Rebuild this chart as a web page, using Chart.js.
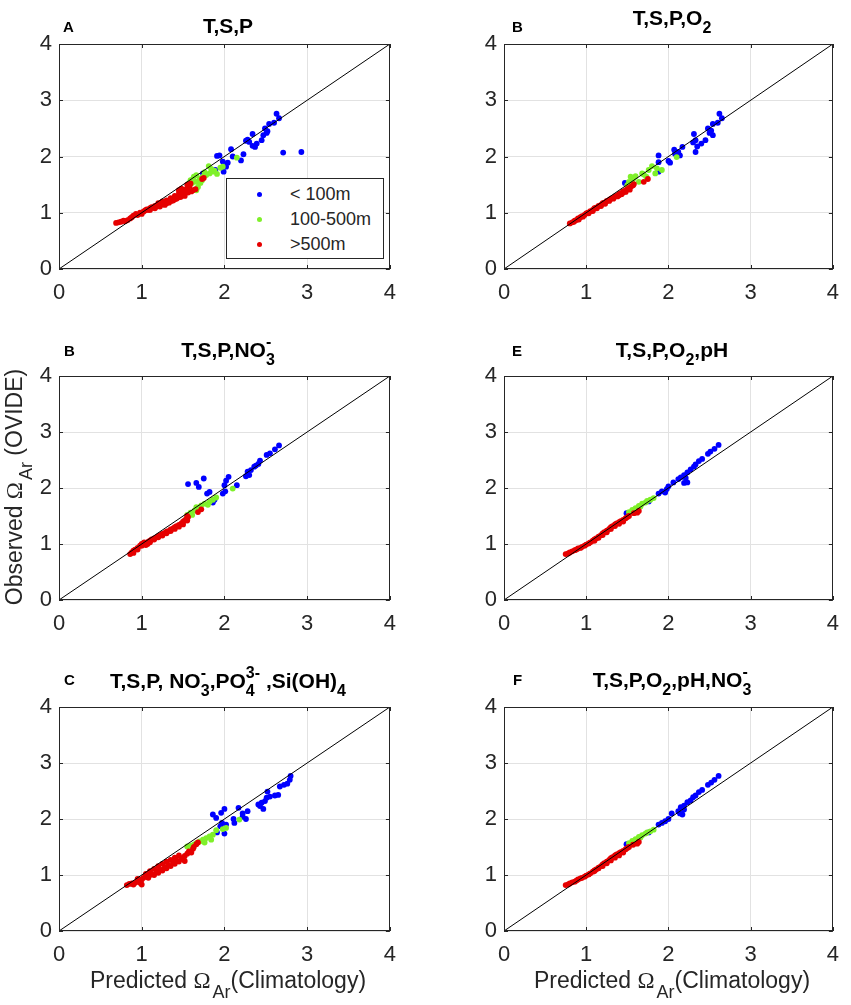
<!DOCTYPE html>
<html>
<head>
<meta charset="utf-8">
<script src="https://cdn.jsdelivr.net/npm/chart.js@4.4.1/dist/chart.umd.min.js"></script>
<style>
body { margin: 0; background: #fff; overflow: hidden; }
#fig { position: relative; width: 851px; height: 1005px; font-family: "Liberation Sans", Arial, sans-serif; color: #000; }
#fig canvas { position: absolute; }
.txt { position: absolute; line-height: 0; white-space: nowrap; }
.title { font-weight: bold; font-size: 21px; text-align: center; }
.letter { font-weight: bold; font-size: 15px; }
.axis { font-size: 23px; text-align: center; color: #262626; }
.lab { font-size: 18px; color: #262626; }
.txt sub, .txt sup { vertical-align: baseline; position: relative; font-size: 16px; }
.txt sub { top: 8px; }
.txt sup { top: -10px; }
.over { margin-left: -8.9px; }
.overm { margin-left: -8.9px; margin-right: 3.6px; }
.axis sub { font-size: 18px; top: 10px; }
.omega { font-family: "Liberation Serif", serif; padding-right: 2px; }
.legbox { position: absolute; border: 1px solid #262626; background: #fff; box-sizing: border-box; }
.dot { position: absolute; width: 5px; height: 5px; border-radius: 50%; }
</style>
</head>
<body>
<div id="fig"></div>
<script>
// ---- data ----
var axisTicks = [0, 1, 2, 3, 4];
var diagonal = [0, 4];
var seriesLabels = ['< 100m', '100-500m', '>500m'];
var seriesColors = ['#0000ff', '#7ff02a', '#e60000'];

var panelLetters = ['A', 'B', 'B', 'E', 'C', 'F'];
var panelTitles = [
	'T,S,P',
	'T,S,P,O<sub>2</sub>',
	'T,S,P,NO<sub>3</sub><sup class="overm">-</sup>',
	'T,S,P,O<sub>2</sub>,pH',
	'T,S,P, NO<sub>3</sub><sup class="overm">-</sup>,PO<sub>4</sub><sup class="over">3-</sup> ,Si(OH)<sub>4</sub>',
	'T,S,P,O<sub>2</sub>,pH,NO<sub>3</sub><sup class="overm">-</sup>'
];

// A: T,S,P
var tspShallow = [[2.63,2.76],[2.66,2.68],[2.60,2.60],[2.54,2.58],[2.49,2.50],[2.51,2.42],[2.47,2.38],[2.45,2.29],[2.34,2.40],[2.26,2.28],[2.30,2.26],[2.34,2.19],[2.37,2.17],[2.39,2.23],[2.71,2.07],[2.93,2.08],[2.23,2.04],[2.20,1.93],[2.10,2.00],[2.08,2.13],[1.91,2.01],[1.94,2.02],[1.98,1.91],[2.04,1.89],[1.99,1.73],[1.89,1.76],[1.74,1.70],[2.02,1.82],[2.52,2.45],[2.28,2.30]];
var tspMid = [[2.15,1.98],[1.81,1.83],[1.98,1.82],[1.91,1.69],[1.86,1.73],[1.82,1.70],[1.78,1.67],[1.74,1.64],[1.70,1.61],[1.66,1.67],[1.63,1.64],[1.59,1.58],[1.57,1.52],[1.66,1.55],[1.68,1.46],[1.66,1.40],[1.71,1.53],[1.61,1.53],[1.84,1.78],[1.76,1.72],[1.88,1.75],[1.95,1.80],[1.73,1.58],[1.62,1.60]];
var tspDeep = [[0.69,0.82],[0.72,0.83],[0.75,0.84],[0.78,0.86],[0.80,0.85],[0.83,0.87],[0.86,0.90],[0.88,0.92],[0.90,0.95],[0.93,0.98],[0.95,0.96],[0.98,1.00],[1.00,0.98],[1.02,1.02],[1.04,1.04],[1.06,1.06],[1.08,1.05],[1.10,1.08],[1.12,1.10],[1.14,1.09],[1.16,1.12],[1.18,1.11],[1.20,1.14],[1.22,1.13],[1.24,1.16],[1.26,1.15],[1.28,1.18],[1.30,1.17],[1.32,1.20],[1.34,1.22],[1.36,1.21],[1.38,1.25],[1.40,1.24],[1.42,1.28],[1.44,1.27],[1.46,1.30],[1.48,1.32],[1.50,1.35],[1.52,1.38],[1.54,1.42],[1.56,1.45],[1.58,1.48],[1.59,1.52],[1.55,1.50],[1.50,1.40],[1.45,1.35],[1.40,1.30],[1.35,1.26],[1.30,1.22],[1.25,1.20],[1.20,1.17],[1.60,1.38],[1.62,1.40],[1.65,1.42],[1.56,1.36],[1.52,1.30],[1.47,1.28],[1.42,1.25],[1.38,1.22],[1.33,1.18],[1.28,1.14],[1.22,1.11],[1.16,1.08],[1.10,1.05],[1.73,1.60],[1.75,1.62],[1.45,1.40],[1.48,1.43]];

// B: T,S,P,O2
var tspo2Shallow = [[2.62,2.76],[2.65,2.68],[2.60,2.60],[2.54,2.58],[2.48,2.50],[2.50,2.42],[2.54,2.38],[2.45,2.29],[2.40,2.23],[2.31,2.40],[2.33,2.29],[2.35,2.18],[2.33,2.08],[2.17,2.17],[2.07,2.12],[2.12,2.08],[2.14,2.02],[2.08,2.05],[2.00,1.92],[2.02,1.89],[1.88,2.02],[1.88,1.90],[1.88,1.73],[1.47,1.53],[2.30,2.25],[2.52,2.46]];
var tspo2Mid = [[1.80,1.83],[1.86,1.79],[1.92,1.76],[2.10,1.99],[1.76,1.76],[1.68,1.70],[1.60,1.65],[1.54,1.64],[1.56,1.58],[1.64,1.55],[1.52,1.55],[1.73,1.64],[1.84,1.70],[1.50,1.49],[1.58,1.62],[1.70,1.68]];
var tspo2Deep = [[0.80,0.81],[0.83,0.83],[0.86,0.86],[0.88,0.87],[0.90,0.90],[0.93,0.92],[0.95,0.94],[0.98,0.96],[1.00,0.99],[1.02,1.00],[1.05,1.03],[1.08,1.05],[1.10,1.08],[1.12,1.09],[1.15,1.12],[1.18,1.14],[1.20,1.17],[1.22,1.18],[1.25,1.21],[1.28,1.23],[1.30,1.25],[1.32,1.26],[1.35,1.29],[1.38,1.31],[1.40,1.33],[1.42,1.35],[1.45,1.38],[1.48,1.40],[1.50,1.42],[1.52,1.44],[1.55,1.47],[1.57,1.49],[1.58,1.51],[1.53,1.41],[1.48,1.37],[1.43,1.33],[1.38,1.29],[1.33,1.25],[1.28,1.21],[1.23,1.16],[1.18,1.12],[1.13,1.08],[1.08,1.03],[1.03,0.99],[0.96,0.93],[0.91,0.88],[0.85,0.84],[1.70,1.55],[1.75,1.60],[1.45,1.36],[1.40,1.31]];

// B (middle): T,S,P,NO3
var tspno3Shallow = [[2.66,2.76],[2.61,2.69],[2.55,2.62],[2.51,2.59],[2.43,2.49],[2.41,2.43],[2.36,2.38],[2.32,2.32],[2.28,2.29],[2.26,2.21],[2.30,2.23],[2.15,2.05],[2.05,2.20],[2.02,2.13],[2.00,2.05],[1.98,1.90],[2.01,1.94],[1.75,2.17],[1.66,2.09],[1.69,2.02],[1.56,2.07],[1.82,1.93],[1.79,1.90],[1.86,1.74],[1.88,1.79],[2.38,2.40]];
var tspno3Mid = [[2.10,1.99],[1.90,1.83],[1.86,1.79],[1.82,1.75],[1.76,1.72],[1.70,1.66],[1.64,1.60],[1.59,1.56],[1.55,1.52],[1.53,1.43],[1.66,1.66],[1.72,1.69],[1.61,1.52],[1.80,1.70]];
var tspno3Deep = [[0.86,0.82],[0.88,0.85],[0.90,0.84],[0.90,0.88],[0.92,0.90],[0.95,0.93],[0.98,0.97],[1.00,1.00],[1.02,1.01],[1.05,0.98],[1.07,1.00],[1.08,1.04],[1.10,1.06],[1.12,1.08],[1.15,1.10],[1.18,1.12],[1.20,1.14],[1.22,1.16],[1.25,1.18],[1.28,1.20],[1.30,1.22],[1.32,1.23],[1.35,1.26],[1.38,1.28],[1.40,1.30],[1.42,1.32],[1.45,1.34],[1.48,1.37],[1.50,1.40],[1.52,1.42],[1.54,1.45],[1.56,1.48],[1.55,1.50],[1.50,1.35],[1.45,1.31],[1.40,1.27],[1.35,1.23],[1.30,1.19],[1.25,1.15],[1.20,1.12],[1.15,1.08],[1.10,1.03],[0.95,0.90],[1.68,1.57],[1.72,1.62],[1.55,1.42],[1.03,1.03],[1.00,0.97]];

// E: T,S,P,O2,pH
var tspo2phShallow = [[2.61,2.77],[2.56,2.70],[2.51,2.65],[2.48,2.61],[2.41,2.52],[2.37,2.48],[2.33,2.42],[2.31,2.38],[2.27,2.33],[2.23,2.28],[2.19,2.23],[2.21,2.18],[2.19,2.09],[2.23,2.10],[2.12,2.16],[2.06,2.10],[2.00,2.03],[1.98,1.98],[1.92,1.94],[1.88,1.90],[1.96,1.92],[1.76,1.76],[1.49,1.55],[1.62,1.63],[2.15,2.19]];
var tspo2phMid = [[1.82,1.82],[1.78,1.79],[1.72,1.74],[1.68,1.72],[1.64,1.68],[1.60,1.64],[1.56,1.61],[1.52,1.57],[1.58,1.58],[1.66,1.67],[1.74,1.77]];
var tspo2phDeep = [[0.75,0.82],[0.78,0.83],[0.80,0.85],[0.83,0.87],[0.86,0.89],[0.88,0.90],[0.90,0.92],[0.93,0.93],[0.95,0.95],[0.98,0.97],[1.00,0.99],[1.03,1.01],[1.05,1.03],[1.08,1.06],[1.10,1.08],[1.12,1.10],[1.15,1.13],[1.18,1.16],[1.20,1.19],[1.22,1.21],[1.25,1.24],[1.28,1.27],[1.30,1.30],[1.32,1.32],[1.35,1.35],[1.37,1.37],[1.40,1.39],[1.42,1.41],[1.45,1.43],[1.48,1.46],[1.50,1.48],[1.52,1.50],[1.35,1.32],[1.40,1.36],[1.45,1.40],[1.30,1.27],[1.25,1.21],[1.20,1.16],[1.15,1.11],[1.10,1.06],[1.62,1.56],[1.64,1.59],[1.58,1.55]];

// C: T,S,P,NO3,PO4,Si(OH)4
var nutShallow = [[2.80,2.77],[2.79,2.70],[2.76,2.63],[2.72,2.61],[2.67,2.58],[2.65,2.43],[2.61,2.42],[2.55,2.40],[2.52,2.49],[2.51,2.38],[2.49,2.32],[2.45,2.29],[2.43,2.23],[2.47,2.18],[2.41,2.26],[2.28,2.14],[2.22,2.10],[2.26,2.00],[2.22,2.04],[2.17,2.20],[2.11,2.00],[2.12,1.93],[2.00,2.18],[1.96,2.11],[1.86,2.08],[1.90,2.02],[1.97,1.93],[2.02,1.90],[1.95,1.87],[1.91,1.76],[2.00,1.74]];
var nutMid = [[2.18,1.99],[2.02,1.84],[1.98,1.82],[1.90,1.80],[1.86,1.72],[1.82,1.69],[1.78,1.66],[1.74,1.63],[1.70,1.60],[1.66,1.57],[1.63,1.54],[1.59,1.52],[1.55,1.51],[1.76,1.58],[1.84,1.63]];
var nutDeep = [[0.82,0.82],[0.85,0.84],[0.88,0.85],[0.90,0.83],[0.92,0.86],[0.95,0.88],[0.98,0.86],[1.00,0.83],[1.00,0.92],[1.02,0.95],[1.05,0.97],[1.08,0.95],[1.10,1.00],[1.12,1.02],[1.15,1.00],[1.18,1.06],[1.20,1.04],[1.22,1.10],[1.25,1.08],[1.28,1.14],[1.30,1.12],[1.32,1.18],[1.35,1.16],[1.38,1.22],[1.40,1.20],[1.42,1.26],[1.45,1.24],[1.48,1.30],[1.50,1.28],[1.52,1.34],[1.55,1.38],[1.57,1.42],[1.45,1.35],[1.40,1.31],[1.35,1.27],[1.30,1.24],[1.25,1.20],[1.20,1.16],[1.15,1.11],[1.10,1.07],[1.05,1.02],[0.95,0.93],[1.63,1.50],[1.66,1.55],[1.68,1.58],[1.62,1.47],[1.52,1.25],[1.60,1.40]];

// F: T,S,P,O2,pH,NO3
var tspo2phno3Shallow = [[2.61,2.77],[2.56,2.70],[2.52,2.65],[2.48,2.61],[2.41,2.52],[2.37,2.48],[2.33,2.42],[2.30,2.39],[2.27,2.33],[2.23,2.30],[2.19,2.24],[2.15,2.21],[2.19,2.17],[2.14,2.10],[2.17,2.08],[2.12,2.14],[2.04,2.10],[2.00,2.00],[1.96,1.96],[1.92,1.93],[1.88,1.90],[1.76,1.76],[1.49,1.55],[1.62,1.63]];
var tspo2phno3Mid = [[1.82,1.81],[1.78,1.78],[1.72,1.74],[1.68,1.71],[1.64,1.68],[1.60,1.64],[1.56,1.61],[1.52,1.57],[1.58,1.58],[1.66,1.67],[1.74,1.76]];
var tspo2phno3Deep = [[0.75,0.82],[0.78,0.83],[0.80,0.85],[0.83,0.87],[0.86,0.88],[0.88,0.90],[0.90,0.92],[0.93,0.94],[0.95,0.95],[0.98,0.97],[1.00,0.99],[1.03,1.01],[1.05,1.03],[1.08,1.06],[1.10,1.08],[1.12,1.10],[1.15,1.13],[1.18,1.16],[1.20,1.19],[1.22,1.21],[1.25,1.24],[1.28,1.27],[1.30,1.30],[1.32,1.32],[1.35,1.35],[1.37,1.37],[1.40,1.39],[1.42,1.41],[1.45,1.43],[1.48,1.46],[1.50,1.48],[1.52,1.50],[1.35,1.31],[1.40,1.35],[1.45,1.40],[1.30,1.26],[1.25,1.21],[1.20,1.16],[1.15,1.12],[1.10,1.07],[1.62,1.56],[1.64,1.59],[1.57,1.54]];

var panelSeries = [
	[tspShallow, tspMid, tspDeep],
	[tspo2Shallow, tspo2Mid, tspo2Deep],
	[tspno3Shallow, tspno3Mid, tspno3Deep],
	[tspo2phShallow, tspo2phMid, tspo2phDeep],
	[nutShallow, nutMid, nutDeep],
	[tspo2phno3Shallow, tspo2phno3Mid, tspo2phno3Deep]
];

// ---- layout: plot boxes in page pixels ----
var plotBoxes = [
	{ left: 59,  top: 44,  w: 338, h: 225, titleBase: 33,  letterX: 63,  letterBase: 32 },
	{ left: 504, top: 44,  w: 336, h: 225, titleBase: 25,  letterX: 512, letterBase: 32 },
	{ left: 59,  top: 376, w: 338, h: 224, titleBase: 357, letterX: 64,  letterBase: 356 },
	{ left: 504, top: 376, w: 336, h: 224, titleBase: 357, letterX: 512, letterBase: 356 },
	{ left: 59,  top: 707, w: 338, h: 224, titleBase: 688, letterX: 64,  letterBase: 685 },
	{ left: 504, top: 707, w: 336, h: 224, titleBase: 687, letterX: 513, letterBase: 685 }
];
var yAxisW = 45, xAxisH = 40, padTop = 26, padRight = 10;
var inkColor = '#262626';
var fig = document.getElementById('fig');

function addText(cls, html, left, baseline, fontSize, width) {
	var d = document.createElement('div');
	d.className = 'txt ' + cls;
	d.innerHTML = html;
	d.style.left = left + 'px';
	d.style.top = (baseline - 0.3465 * fontSize) + 'px';
	if (width) d.style.width = width + 'px';
	fig.appendChild(d);
	return d;
}

function toPoints(pairs) {
	return pairs.map(function(p) { return { x: p[0], y: p[1] }; });
}

// frame around the axes with small inward ticks, MATLAB style
var framePlugin = {
	id: 'frame',
	afterDraw: function(chart) {
		var ctx = chart.ctx, a = chart.chartArea;
		var xs = chart.scales.x, ys = chart.scales.y;
		ctx.save();
		ctx.strokeStyle = inkColor;
		ctx.lineWidth = 1;
		ctx.strokeRect(Math.round(a.left) + 0.5, Math.round(a.top) + 0.5,
			Math.round(a.right - a.left) - 1, Math.round(a.bottom - a.top) - 1);
		ctx.beginPath();
		axisTicks.forEach(function(v) {
			var px = Math.round(xs.getPixelForValue(v)) + 0.5;
			ctx.moveTo(px, a.bottom); ctx.lineTo(px, a.bottom - 4);
			ctx.moveTo(px, a.top); ctx.lineTo(px, a.top + 4);
			var py = Math.round(ys.getPixelForValue(v)) + 0.5;
			ctx.moveTo(a.left, py); ctx.lineTo(a.left + 4, py);
			ctx.moveTo(a.right, py); ctx.lineTo(a.right - 4, py);
		});
		ctx.stroke();
		ctx.restore();
	}
};

function axisOptions(isX) {
	return {
		type: 'linear',
		min: axisTicks[0],
		max: axisTicks[axisTicks.length - 1],
		afterBuildTicks: function(scale) {
			scale.ticks = axisTicks.map(function(v) { return { value: v }; });
		},
		ticks: {
			color: inkColor,
			padding: isX ? 11 : 7,
			font: { family: '"Liberation Sans", Arial, sans-serif', size: 22 }
		},
		grid: { color: '#e2e2e2', lineWidth: 1, drawTicks: false },
		border: { display: false },
		afterFit: function(scale) {
			if (isX) scale.height = xAxisH; else scale.width = yAxisW;
		}
	};
}

plotBoxes.forEach(function(box, i) {
	var cv = document.createElement('canvas');
	var cw = box.w + yAxisW + padRight, ch = box.h + padTop + xAxisH;
	cv.width = cw; cv.height = ch;
	cv.style.left = (box.left - yAxisW) + 'px';
	cv.style.top = (box.top - padTop) + 'px';
	cv.style.width = cw + 'px'; cv.style.height = ch + 'px';
	fig.appendChild(cv);

	var datasets = [{
		label: '1:1',
		data: diagonal.map(function(v) { return { x: v, y: v }; }),
		showLine: true,
		borderColor: '#000',
		borderWidth: 1,
		pointRadius: 0,
		order: 0
	}];
	panelSeries[i].forEach(function(s, k) {
		datasets.push({
			label: seriesLabels[k],
			data: toPoints(s),
			backgroundColor: seriesColors[k],
			borderColor: seriesColors[k],
			borderWidth: 0,
			pointRadius: 2.9,
			order: 3 - k
		});
	});

	new Chart(cv, {
		type: 'scatter',
		data: { datasets: datasets },
		options: {
			responsive: false,
			animation: false,
			events: [],
			layout: { padding: { top: padTop, right: padRight, left: 0, bottom: 0 } },
			plugins: { legend: { display: false }, tooltip: { enabled: false } },
			scales: { x: axisOptions(true), y: axisOptions(false) }
		},
		plugins: [framePlugin]
	});

	addText('title', panelTitles[i], box.left, box.titleBase, 21, box.w);
	addText('letter', panelLetters[i], box.letterX, box.letterBase, 15);
});

// legend inside panel A
var leg = document.createElement('div');
leg.className = 'legbox';
leg.style.left = '226px'; leg.style.top = '178px';
leg.style.width = '158px'; leg.style.height = '81px';
fig.appendChild(leg);
seriesLabels.forEach(function(lbl, k) {
	var rowY = 194 + k * 25;
	var dot = document.createElement('div');
	dot.className = 'dot';
	dot.style.background = seriesColors[k];
	dot.style.left = '256.5px'; dot.style.top = (rowY - 2.5) + 'px';
	fig.appendChild(dot);
	addText('lab', lbl.replace('<', '&lt;').replace('>', '&gt;'), 290, rowY + 6.5, 18);
});

// axis titles
var xTitle = 'Predicted <span class="omega">&Omega;</span><sub>Ar</sub>(Climatology)';
addText('axis', xTitle, plotBoxes[4].left, 988, 23, plotBoxes[4].w);
addText('axis', xTitle, plotBoxes[5].left, 988, 23, plotBoxes[5].w);
var yt = addText('axis', 'Observed <span class="omega">&Omega;</span><sub>Ar</sub> (OVIDE)', 14 - 150, 487, 23, 300);
yt.style.top = '487px';
yt.style.transformOrigin = '150px 0';
yt.style.transform = 'rotate(-90deg)';
</script>
</body>
</html>
